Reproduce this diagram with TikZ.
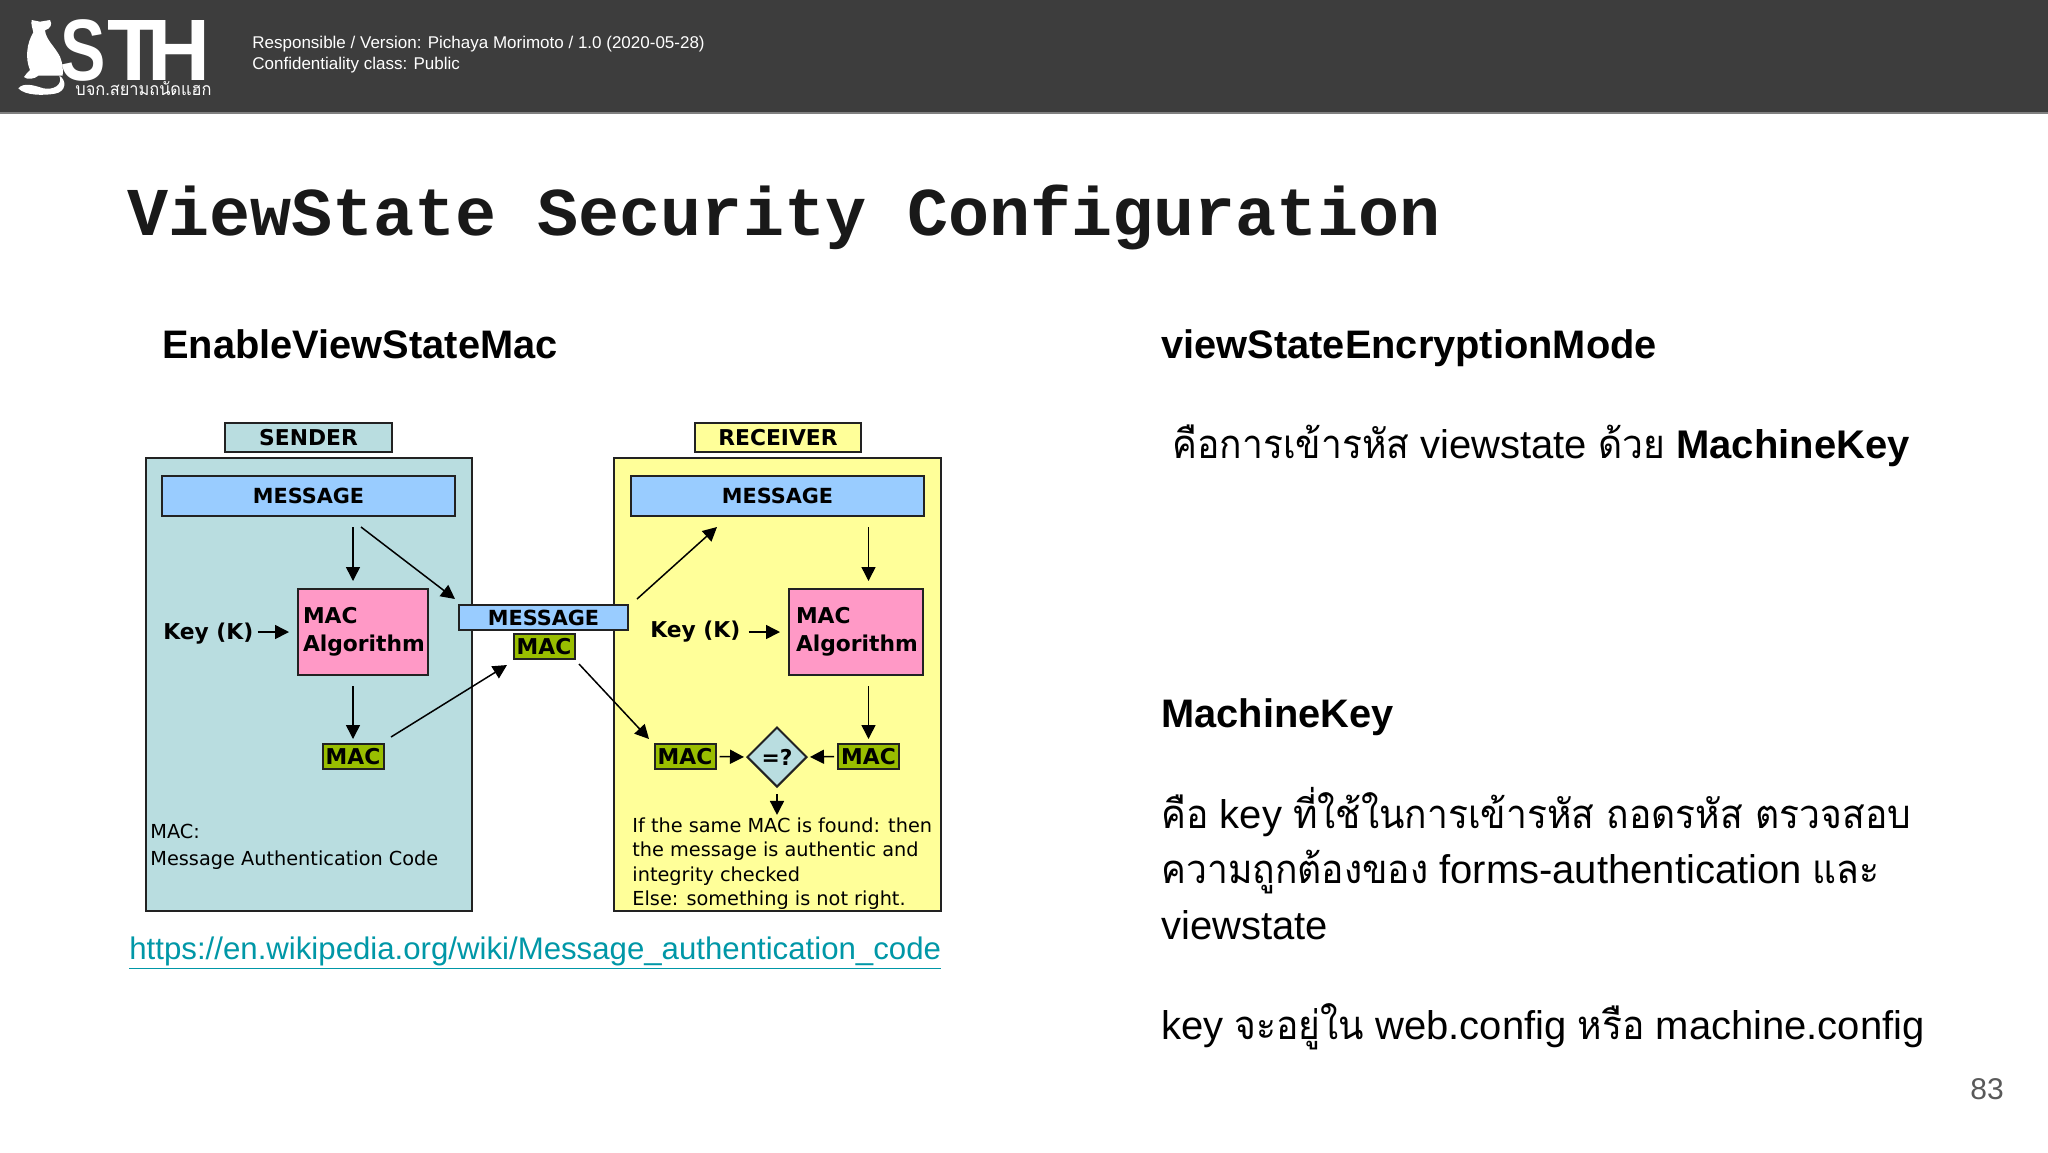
\documentclass[tikz,border=0pt]{standalone}
\usepackage{fontspec}
\usetikzlibrary{arrows.meta,shapes.geometric}
\setmainfont{Liberation Sans}
\newfontfamily\thaifont[Script=Thai,FakeStretch=0.93]{Loma}
\newfontfamily\diagfont{DejaVu Sans}
\newfontfamily\titlefont{Liberation Mono}
\newcommand{\tht}[1]{{\thaifont #1}}
\definecolor{barcol}{HTML}{3D3D3D}
\definecolor{sendcol}{HTML}{B9DDE0}
\definecolor{recvcol}{HTML}{FFFF99}
\definecolor{msgcol}{HTML}{99CCFF}
\definecolor{algcol}{HTML}{FF99C6}
\definecolor{maccol}{HTML}{99BE00}
\definecolor{linkcol}{HTML}{0097A7}
\definecolor{edgecol}{HTML}{222222}
\tikzset{
    box/.style={draw=edgecol, line width=1pt, inner sep=0pt},
    lab/.style={anchor=base west, inner sep=0pt},
    diag/.style={font=\diagfont\fontsize{9.65}{12}\selectfont},
    bold/.style={font=\diagfont\bfseries\fontsize{10.9}{14}\selectfont},
    msgbox/.style={box, fill=msgcol, font=\diagfont\bfseries\fontsize{10.4}{12}\selectfont},
    macbox/.style={box, fill=maccol, bold, minimum width=30.5pt, minimum height=12.5pt},
    algbox/.style={box, fill=algcol, bold, align=left, text width=60pt, minimum height=43pt},
    flow/.style={-{Triangle[length=7pt,width=7pt]}, line width=.75pt, black},
    head/.style={lab, font=\bfseries\fontsize{19.9}{24}\selectfont},
    body/.style={lab, font=\fontsize{20}{24}\selectfont},
}
\begin{document}
\begin{tikzpicture}[x=.5pt,y=-.5pt]
    \useasboundingbox (0,0) rectangle (2048,1152);

    % header bar
    \fill[barcol] (0,0) rectangle (2048,113);
    \fill[gray] (0,112) rectangle (2048,114);
    \node[lab, white, font=\fontsize{8.5}{10}\selectfont] (resp) at (252,48) {Responsible / Version: Pichaya Morimoto / 1.0 (2020-05-28)};
    \node[lab, white, font=\fontsize{8.5}{10}\selectfont] (conf) at (252,69) {Confidentiality class: Public};

    % logo
    \begin{scope}[shift={(10,5)},scale=1/3]
        \fill[white] (65,45) -- (90,50) -- (120,45) .. controls (128,58) and (122,70) .. (105,76)
            .. controls (108,105) and (135,125) .. (150,155) .. controls (158,175) and (160,195) .. (158,212)
            -- (85,212) .. controls (75,222) and (50,225) .. (42,216) .. controls (45,205) and (55,205) .. (60,195)
            .. controls (45,160) and (50,115) .. (70,82) .. controls (68,70) and (62,58) .. (65,45) -- cycle;
        \fill[white] (148,212) .. controls (170,225) and (170,260) .. (135,266)
            .. controls (100,272) and (45,272) .. (25,250) .. controls (40,232) and (70,240) .. (100,250)
            .. controls (130,256) and (160,240) .. (148,212) -- cycle;
    \end{scope}
    \node[lab, white, xscale=.78, font=\bfseries\fontsize{43.6}{44}\selectfont] (logoS) at (60,80) {S};
    \node[lab, white, font=\bfseries\fontsize{43.6}{44}\selectfont] (logoT) at (107,80) {T\kern-.15em H};
    \node[lab, white, font=\thaifont\fontsize{8.8}{10}\selectfont] (logoTh) at (75,95) {บจก.สยามถนัดแฮก};

    % title and headings
    \node[lab, font=\titlefont\bfseries\fontsize{34.2}{40}\selectfont, black!90] (title) at (127,235) {ViewState Security Configuration};
    \node[head] (hmac) at (162,358) {EnableViewStateMac};
    \node[head] (henc) at (1161,358) {viewStateEncryptionMode};
    \node[head] (hkey) at (1161,727) {MachineKey};

    % right column
    \node[body] (enc) at (1172,458) {\tht{คือการเข้ารหัส} viewstate \tht{ด้วย} \textbf{MachineKey}};
    \node[body] (keya) at (1161,828) {\tht{คือ} key \tht{ที่ใช้ในการเข้ารหัส ถอดรหัส ตรวจสอบ}};
    \node[body] (keyb) at (1161,883) {\tht{ความถูกต้องของ} forms-authentication \tht{และ}};
    \node[body] (keyc) at (1161,939) {viewstate};
    \node[body] (keyd) at (1161,1039) {key \tht{จะอยู่ใน} web.config \tht{หรือ} machine.config};
    \node[lab, black!65, font=\fontsize{15}{18}\selectfont] (page) at (1970,1099) {83};

    % sender and receiver panels
    \node[box, fill=sendcol, minimum width=163pt, minimum height=226.5pt] (send) at (309,684.5) {};
    \node[box, fill=recvcol, minimum width=163.5pt, minimum height=226.5pt] (recv) at (777.5,684.5) {};
    \node[box, fill=sendcol, bold, minimum width=83.5pt, minimum height=14.5pt] (sendT) at (308.5,437.5) {SENDER};
    \node[box, fill=recvcol, bold, minimum width=83pt, minimum height=14.5pt] (recvT) at (778,437.5) {RECEIVER};

    \node[msgbox, minimum width=146.5pt, minimum height=20pt] (msgS) at (308.5,496) {MESSAGE};
    \node[msgbox, minimum width=146.5pt, minimum height=20pt] (msgR) at (777.5,496) {MESSAGE};
    \node[msgbox, minimum width=84.5pt, minimum height=12.5pt] (msgM) at (543.5,617.5) {MESSAGE};

    \node[algbox, inner xsep=2.5pt] (algS) at (363,632) {MAC\\Algorithm};
    \node[algbox, inner xsep=3.5pt] (algR) at (856,632) {MAC\\Algorithm};
    \node[lab, bold] (keyS) at (163,639) {Key (K)};
    \node[lab, bold] (keyR) at (650,637) {Key (K)};

    \node[macbox] (macS) at (353,756.5) {MAC};
    \node[macbox] (macM) at (544,646.5) {MAC};
    \node[macbox] (macL) at (685,756.5) {MAC};
    \node[macbox] (macR) at (868.5,756.5) {MAC};
    \node[diamond, box, fill=sendcol, bold, minimum width=30pt, minimum height=30pt] (cmp) at (777,757) {=?};

    \node[lab, diag] (noteA) at (150,838) {MAC:};
    \node[lab, diag] (noteB) at (150,865) {Message Authentication Code};
    \node[lab, diag] (recA) at (632,832) {If the same MAC is found: then};
    \node[lab, diag] (recB) at (632,856) {the message is authentic and};
    \node[lab, diag] (recC) at (632,881) {integrity checked};
    \node[lab, diag] (recD) at (632,905) {Else: something is not right.};

    \node[lab, linkcol, font=\fontsize{15.6}{20}\selectfont] (link) at (129,959) {\underline{https://en.wikipedia.org/wiki/Message\_authentication\_code}};

    % free ends of the slanted arrows
    \coordinate (sA) at (361,527);
    \coordinate (sB) at (455,599);
    \coordinate (mA) at (391,737);
    \coordinate (mB) at (507,665);
    \coordinate (rA) at (579,664);
    \coordinate (rB) at (649,739);
    \coordinate (tA) at (637,599);
    \coordinate (tB) at (717,527);

    \draw[flow] (sA) -- (sB);
    \draw[flow] (mA) -- (mB);
    \draw[flow] (rA) -- (rB);
    \draw[flow] (tA) -- (tB);

    \draw[flow, shorten <=5pt, shorten >=3.5pt] (msgS.south -| macS.north) -- (algS.north -| macS.north);
    \draw[flow, shorten <=5pt, shorten >=2pt] (algS.south -| macS.north) -- (macS.north);
    \draw[flow, shorten <=5pt, shorten >=3.5pt] (msgR.south -| macR.north) -- (algR.north -| macR.north);
    \draw[flow, shorten <=5pt, shorten >=2pt] (algR.south -| macR.north) -- (macR.north);
    \draw[flow, shorten <=2pt, shorten >=4pt] (keyS.east |- algS.west) -- (algS.west);
    \draw[flow, shorten <=4pt, shorten >=4pt] (keyR.east |- algR.west) -- (algR.west);
    \draw[flow, shorten <=1.5pt, shorten >=1pt] (macL.east) -- (cmp.west);
    \draw[flow, shorten <=1.5pt, shorten >=1pt] (macR.west) -- (cmp.east);
    \draw[flow, shorten <=3pt, shorten >=1pt] (cmp.south) -- (recA.north -| cmp.south);
\end{tikzpicture}
\end{document}
